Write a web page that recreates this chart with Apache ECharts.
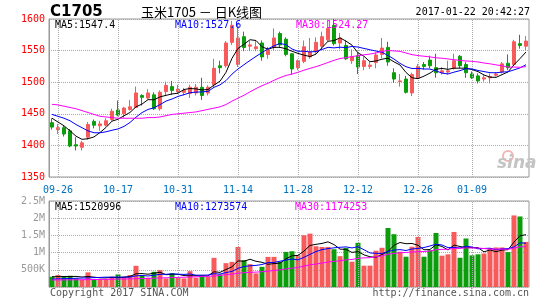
<!DOCTYPE html>
<html><head><meta charset="utf-8">
<script src="https://cdn.jsdelivr.net/npm/echarts@6/dist/echarts.min.js"></script>
<style>html,body{margin:0;padding:0;background:#fff;}#c{width:545px;height:300px;}</style>
</head><body><div id="c"></div>
<script>
const dates = ['09-23',
 '09-26','09-27','09-28','09-29','09-30',
 '10-10','10-11','10-12','10-13','10-14',
 '10-17','10-18','10-19','10-20','10-21',
 '10-24','10-25','10-26','10-27','10-28',
 '10-31','11-01','11-02','11-03','11-04',
 '11-07','11-08','11-09','11-10','11-11',
 '11-14','11-15','11-16','11-17','11-18',
 '11-21','11-22','11-23','11-24','11-25',
 '11-28','11-29','11-30','12-01','12-02',
 '12-05','12-06','12-07','12-08','12-09',
 '12-12','12-13','12-14','12-15','12-16',
 '12-19','12-20','12-21','12-22','12-23',
 '12-26','12-27','12-28','12-29','12-30',
 '01-03','01-04','01-05','01-06',
 '01-09','01-10','01-11','01-12','01-13',
 '01-16','01-17','01-18','01-19','01-20'];
const opens = [1436,1425,1428,1423,1401,1397,1413,1438,1431,1432,
 1441,1456,1450,1457,1460,1479,1475,1480,1458,1485,
 1493,1485,1484,1482,1483,1492,1483,1496,1526,1526,
 1563,1528,1572,1557,1553,1562,1544,1555,1577,1568,
 1545,1523,1533,1540,1548,1557,1567,1590,1562,1558,
 1534,1542,1525,1525,1531,1544,1555,1515,1501,1505,
 1483,1507,1528,1535,1523,1515,1516,1522,1541,1528,
 1513,1510,1505,1507,1511,1516,1530,1528,1561,1557];
const closes = [1429,1428,1418,1399,1399,1404,1433,1432,1434,1439,
 1454,1448,1459,1461,1483,1476,1483,1458,1484,1495,
 1487,1489,1487,1492,1492,1479,1492,1522,1523,1562,
 1590,1570,1555,1559,1556,1540,1551,1570,1559,1544,
 1521,1534,1556,1548,1563,1572,1585,1561,1570,1537,
 1540,1524,1534,1527,1543,1554,1532,1505,1502,1484,
 1512,1525,1525,1526,1515,1518,1518,1534,1526,1515,
 1507,1502,1507,1509,1513,1529,1523,1564,1558,1565];
const lows = [1425,1418,1414,1397,1392,1392,1409,1427,1423,1430,
 1439,1446,1444,1455,1459,1463,1473,1456,1455,1478,
 1480,1481,1479,1475,1479,1472,1479,1492,1514,1523,
 1559,1524,1549,1549,1549,1534,1537,1551,1554,1541,
 1512,1519,1530,1537,1545,1553,1564,1558,1552,1535,
 1529,1513,1519,1521,1522,1538,1526,1499,1493,1482,
 1478,1506,1520,1522,1507,1512,1512,1520,1522,1507,
 1505,1498,1501,1498,1509,1514,1519,1526,1553,1551];
const highs = [1443,1434,1431,1426,1413,1407,1437,1441,1439,1443,
 1458,1471,1461,1472,1493,1481,1489,1484,1487,1501,
 1502,1496,1491,1496,1497,1507,1495,1537,1534,1565,
 1597,1593,1580,1565,1565,1566,1556,1585,1580,1571,
 1546,1536,1566,1570,1571,1580,1598,1600,1578,1566,
 1552,1547,1540,1532,1547,1570,1564,1522,1513,1510,
 1515,1529,1532,1542,1545,1524,1534,1545,1543,1532,
 1517,1514,1512,1514,1516,1532,1544,1567,1575,1573];
// volume in thousands (K)
const volumes = [298,347,318,327,250,211,425,222,231,231,
 298,366,298,347,616,327,270,443,491,250,
 400,270,250,460,270,340,300,847,366,693,
 731,1165,780,665,396,587,876,876,731,1020,
 1040,925,1503,1551,1185,1165,1165,1098,896,1136,
 735,1285,620,620,1055,1140,1715,1535,1025,880,
 1170,1455,880,1070,1570,910,950,1600,850,1410,
 920,950,975,1135,1150,1150,1015,2080,2050,1310];
// moving-average values before enough bars are on screen
const ma5Head = [1443,1437,1431,1423];
const ma10Head = [1449,1446,1443,1439,1433,1428,1423,1420,1420];
const ma30Head = [1465,1464,1462,1460,1458,1455,1452,1449,1446,1445,1444,1443,1443,1443,1443,1443,1444,1444,1445,1447,1449,1450,1451,1452,1453,1455,1457,1459,1461];
const volMa5Head = [300,300,305,305];
const volMa10Head = [230,236,242,248,254,260,266,272,278];
const volMa30Head = [205,205,207,208,210,212,215,218,220,222,226,230,233,236,242,246,250,255,262,268,272,278,283,290,296,305,312,320,335];
const dateLabels = ['09-26','10-17','10-31','11-14','11-28','12-12','12-26','01-09'];
const priceTicks = [1350,1400,1450,1500,1550,1600];
const volTickLabels = ['','500K','1M','1.5M','2M','2.5M'];
const priceLegend = ['MA5:1547.4','MA10:1527.6','MA30:1524.27'];
const volLegend = ['MA5:1520996','MA10:1273574','MA30:1174253'];
const titleCode = 'C1705';
const titleText = '玉米1705 － 日K线图';
const stamp = '2017-01-22 20:42:27';
const footLeft = 'Copyright 2017 SINA.COM';
const footRight = 'http://finance.sina.com.cn';

const RED = '#f65a5a', GREEN = '#0c9d0c';
const MONO = '"DejaVu Sans Mono", monospace';

function movingAvg(vals, n, head) {
  return vals.map((v, i) => {
    if (i < n - 1) return head[i];
    let s = 0;
    for (let k = i - n + 1; k <= i; k++) s += vals[k];
    return +(s / n).toFixed(2);
  });
}

const chart = echarts.init(document.getElementById('c'), null, {renderer: 'canvas'});
const gridLineStyle = {type: 'dotted', color: '#aaa', width: 1};
const vMark = {
  silent: true, symbol: ['none', 'none'], label: {show: false},
  lineStyle: gridLineStyle, animation: false,
  data: dateLabels.map(d => ({xAxis: d}))
};
function maLine(name, data, color, xi, yi) {
  return {name, type: 'line', xAxisIndex: xi, yAxisIndex: yi, data, showSymbol: false,
    symbol: 'none', lineStyle: {width: 1, color}, itemStyle: {color}, z: 5, silent: true};
}
const txt = (text, x, y, fill, font, align) => ({type: 'text', silent: true, z: 100,
  style: {text, x, y, fill, font, textAlign: align || 'left', textVerticalAlign: 'middle'}});

chart.setOption({
  animation: false,
  backgroundColor: '#fff',
  grid: [
    {left: 49, width: 480, top: 19, height: 158, show: true, borderColor: '#999', borderWidth: 1, backgroundColor: 'transparent'},
    {left: 49, width: 480, top: 201, height: 86, show: true, borderColor: '#999', borderWidth: 1, backgroundColor: 'transparent'}
  ],
  xAxis: [
    {type: 'category', gridIndex: 0, data: dates, boundaryGap: true,
     axisLine: {show: false}, axisTick: {show: false}, splitLine: {show: false},
     axisLabel: {interval: (i, v) => dateLabels.includes(v), color: '#0070c0', fontFamily: MONO, fontSize: 10, margin: 8}},
    {type: 'category', gridIndex: 1, data: dates, boundaryGap: true,
     axisLine: {show: false}, axisTick: {show: false}, splitLine: {show: false}, axisLabel: {show: false}}
  ],
  yAxis: [
    {type: 'value', gridIndex: 0, min: priceTicks[0], max: priceTicks[priceTicks.length - 1], interval: 50,
     axisLine: {show: true, lineStyle: {color: '#999', width: 1}}, axisTick: {show: false},
     splitLine: {show: true, lineStyle: gridLineStyle},
     axisLabel: {color: '#ff0000', fontFamily: MONO, fontSize: 10, margin: 4, padding: [0, 0, 4, 0],
       formatter: v => String(v)}},
    {type: 'value', gridIndex: 1, min: 0, max: 2500, interval: 500,
     axisLine: {show: true, lineStyle: {color: '#999', width: 1}}, axisTick: {show: false},
     splitLine: {show: true, lineStyle: gridLineStyle},
     axisLabel: {color: '#999', fontFamily: MONO, fontSize: 10, margin: 4, padding: [0, 0, 3, 0],
       formatter: v => volTickLabels[Math.round(v / 500)]}}
  ],
  series: [
    {type: 'candlestick', xAxisIndex: 0, yAxisIndex: 0, barWidth: 4,
     data: dates.map((d, i) => [opens[i], closes[i], lows[i], highs[i]]),
     itemStyle: {color: RED, color0: GREEN, borderColor: RED, borderColor0: GREEN, borderWidth: 1},
     markLine: vMark, z: 3},
    maLine('MA5', movingAvg(closes, 5, ma5Head), '#000000', 0, 0),
    maLine('MA10', movingAvg(closes, 10, ma10Head), '#0000ff', 0, 0),
    maLine('MA30', movingAvg(closes, 30, ma30Head), '#ff00ff', 0, 0),
    {type: 'bar', xAxisIndex: 1, yAxisIndex: 1, barWidth: 5,
     data: volumes.map((v, i) => ({value: v, itemStyle: {color: closes[i] >= opens[i] ? RED : GREEN}})),
     markLine: vMark, z: 3},
    maLine('VMA5', movingAvg(volumes, 5, volMa5Head), '#000000', 1, 1),
    maLine('VMA10', movingAvg(volumes, 10, volMa10Head), '#0000ff', 1, 1),
    maLine('VMA30', movingAvg(volumes, 30, volMa30Head), '#ff00ff', 1, 1)
  ],
  graphic: [
    txt(titleCode, 50, 12, '#000', 'bold 15px "DejaVu Sans", sans-serif'),
    txt(titleText, 141, 12, '#000', '13px "Noto Sans CJK SC", sans-serif'),
    txt(stamp, 530, 12, '#000', '10px ' + MONO, 'right'),
    txt(priceLegend[0], 55, 25, '#000', '10px ' + MONO),
    txt(priceLegend[1], 175, 25, '#0000ff', '10px ' + MONO),
    txt(priceLegend[2], 296, 25, '#ff00ff', '10px ' + MONO),
    txt(volLegend[0], 55, 207, '#000', '10px ' + MONO),
    txt(volLegend[1], 175, 207, '#0000ff', '10px ' + MONO),
    txt(volLegend[2], 295, 207, '#ff00ff', '10px ' + MONO),
    txt(footLeft, 50, 293, '#555', '10px ' + MONO),
    txt(footRight, 529, 293, '#555', '10px ' + MONO, 'right'),
    {type: 'circle', silent: true, z: 1, shape: {cx: 508, cy: 156, r: 5},
     style: {fill: 'none', stroke: '#f3b5b5', lineWidth: 2}},
    txt('sina', 497, 164, '#c4c4c4', 'italic bold 17px "DejaVu Sans", sans-serif')
  ]
});
</script></body></html>
